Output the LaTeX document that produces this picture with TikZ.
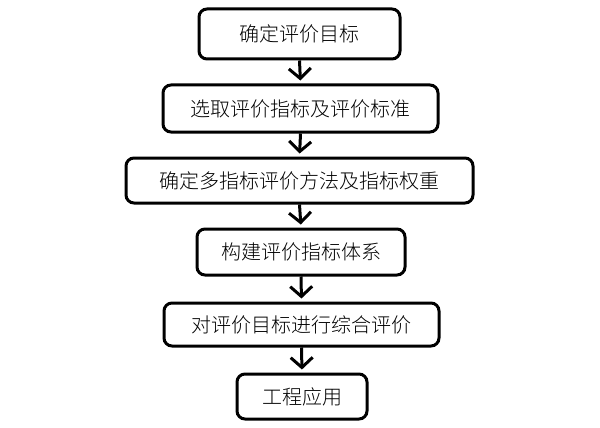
\documentclass[tikz,border=0pt]{standalone}
\usepackage{fontspec}
\setmainfont{Noto Sans CJK SC Light}
\usetikzlibrary{arrows.meta}
\begin{document}
\begin{tikzpicture}[x=1pt,y=-1pt,
  stepbox/.style={draw=black, line width=3pt, rounded corners=8pt, fill=white, inner sep=0pt, font=\fontsize{20}{22}\selectfont},
  flow/.style={line width=3pt, -{Straight Barb[length=10pt,width=22pt,line width=3pt]}, shorten >=3pt}]
\useasboundingbox (0,0) rectangle (600,428);
\node[stepbox, minimum width=201pt, minimum height=50pt] (b1) at (299.5,34) {确定评价目标};
\node[stepbox, minimum width=275pt, minimum height=47pt] (b2) at (300.5,108.5) {选取评价指标及评价标准};
\node[stepbox, minimum width=347pt, minimum height=45pt] (b3) at (299.5,180.5) {确定多指标评价方法及指标权重};
\node[stepbox, minimum width=208pt, minimum height=46pt] (b4) at (301,252) {构建评价指标体系};
\node[stepbox, minimum width=275pt, minimum height=43pt] (b5) at (301.5,324.5) {对评价目标进行综合评价};
\node[stepbox, minimum width=130pt, minimum height=45pt] (b6) at (302,396.5) {工程应用};
\draw[flow] (b1.south) -- (b2.north);
\draw[flow] (b2.south) -- (b3.north);
\draw[flow] (b3.south) -- (b4.north);
\draw[flow] (b4.south) -- (b5.north);
\draw[flow] (b5.south) -- (b6.north);
\end{tikzpicture}
\end{document}
